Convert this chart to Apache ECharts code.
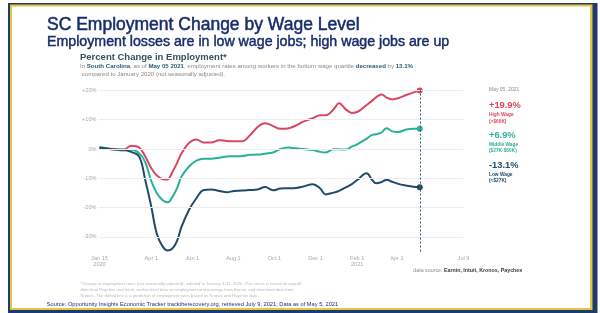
<!DOCTYPE html>
<html><head><meta charset="utf-8">
<script src="https://cdn.jsdelivr.net/npm/echarts@6/dist/echarts.min.js"></script>
<style>html,body{margin:0;padding:0;background:#fff}#c{width:600px;height:313px}</style>
</head><body><div id="c"></div>
<script>
const dates = ['2020-01-15','2020-02-08','2020-02-20','2020-03-02','2020-03-14','2020-03-23','2020-04-01','2020-04-09','2020-04-18','2020-04-25','2020-05-02','2020-05-09','2020-05-16','2020-05-27','2020-06-07','2020-06-18','2020-06-29','2020-07-11','2020-07-22','2020-08-02','2020-08-14','2020-08-25','2020-09-06','2020-09-17','2020-09-29','2020-10-10','2020-10-21','2020-11-02','2020-11-13','2020-11-27','2020-12-08','2020-12-16','2020-12-28','2021-01-05','2021-01-15','2021-01-24','2021-02-01','2021-02-15','2021-02-23','2021-03-01','2021-03-09','2021-03-17','2021-03-25','2021-04-03','2021-04-15','2021-04-25','2021-05-05'];
const highWage = [0.3,-0.2,-0.2,1.1,0.5,-2.6,-6.6,-9.0,-10.3,-10.4,-8.0,-4.9,-1.5,2.0,3.2,2.2,2.2,3.0,2.7,2.6,2.6,4.5,7.5,8.8,7.8,6.9,7.0,8.0,9.3,10.5,11.5,11.5,13.5,15.6,13.5,12.3,12.6,15.0,16.4,17.6,18.6,17.5,16.9,17.3,18.4,19.2,19.9];
const middleWage = [0.6,-0.2,-0.5,-0.3,-1.5,-4.5,-11.0,-15.0,-17.5,-18.2,-16.5,-13.5,-9.4,-6.0,-4.0,-3.3,-3.3,-3.0,-2.6,-2.5,-2.4,-2.0,-1.9,-1.6,-1.2,0.0,0.5,0.2,0.0,-0.4,-1.0,-1.2,-0.1,-0.1,-0.2,0.8,1.6,3.5,4.8,5.0,5.6,7.1,6.0,5.8,6.6,6.9,6.9];
const lowWage = [0.5,-0.2,-0.3,-1.0,-2.6,-10.6,-19.7,-28.8,-33.3,-34.6,-34.0,-31.5,-26.5,-20.8,-16.8,-14.0,-13.8,-14.3,-14.8,-14.3,-14.2,-14.0,-13.8,-13.0,-14.1,-13.5,-13.4,-13.3,-12.8,-12.0,-13.5,-15.5,-14.9,-14.3,-13.1,-12.0,-10.6,-8.3,-10.5,-11.7,-11.3,-10.5,-11.2,-11.9,-12.5,-12.9,-13.1];
const xTickDates = ['2020-01-15','2020-04-01','2020-06-01','2020-08-01','2020-10-01','2020-12-01','2021-02-01','2021-04-01','2021-07-09'];
const xTickLabels = ['Jan 15\n2020','Apr 1','Jun 1','Aug 1','Oct 1','Dec 1','Feb 1\n2021','Apr 1','Jul 9'];
const yTicks = [-30,-20,-10,0,10,20];
const markerDate = '2021-05-05';

const C_HIGH='#d9475f', C_MID='#2bb09b', C_LOW='#1e4c6a';
const t0 = Date.UTC(2020,0,15);
function day(s){const p=s.split('-');return Math.round((Date.UTC(+p[0],+p[1]-1,+p[2])-t0)/86400000);}
const xTickDays = xTickDates.map(day);
function mk(vals,color){
  return vals.map((v,i)=>{
    const pt=[day(dates[i]),v];
    if(i===vals.length-1) return {value:pt,symbol:'circle',symbolSize:6,itemStyle:{color:color}};
    return {value:pt};
  });
}
const FF='Liberation Sans';
const chart = echarts.init(document.getElementById('c'),null,{renderer:'canvas'});
const g = [];
// frame
g.push({type:'rect',z:-10,shape:{x:8,y:3,width:589.5,height:310},style:{fill:'#1e3a6e'}});
g.push({type:'rect',z:-9,shape:{x:10,y:4.5,width:582.5,height:305.5},style:{fill:'#e6c542'}});
g.push({type:'rect',z:-8,shape:{x:12,y:6.5,width:578,height:301.5},style:{fill:'#ffffff'}});
function txt(x,y,text,fs,color,weight,extra){
  g.push({type:'text',x:x,y:y,style:Object.assign({text:text,fontSize:fs,fill:color,fontWeight:weight||'normal',fontFamily:FF,verticalAlign:'middle',align:'left'},extra||{})});
}
txt(47,25,'SC Employment Change by Wage Level',17.5,'#172d6b','normal',{stroke:'#172d6b',lineWidth:0.5});
txt(47,42.5,'Employment losses are in low wage jobs; high wage jobs are up',14.2,'#172d6b','normal',{stroke:'#172d6b',lineWidth:0.45});
txt(80,57.5,'Percent Change in Employment*',9.5,'#34525e','bold');
g.push({type:'text',x:80,y:70,style:{
  text:'{g|In }{b|South Carolina}{g|, as of }{b|May 05 2021}{g|, employment rates among workers in the bottom wage quartile }{b|decreased}{g| by }{b|13.1%}\n{g| compared to January 2020 (not seasonally adjusted).}',
  fontFamily:FF,fontSize:6.1,verticalAlign:'middle',lineHeight:8,
  rich:{g:{fill:'#8a8a8a',fontSize:6.1,fontFamily:FF,lineHeight:8},b:{fill:'#2c5a7a',fontWeight:'bold',fontSize:6.1,fontFamily:FF,lineHeight:8}}
}});
txt(489,90,'May 05, 2021',5,'#8a8a8a');
txt(489,105.3,'+19.9%',9.3,C_HIGH,'bold');
txt(489,114.7,'High Wage',4.8,C_HIGH,'bold');
txt(489,121.3,'(>$60K)',4.8,C_HIGH,'bold');
txt(489,135,'+6.9%',9.3,C_MID,'bold');
txt(489,144.3,'Middle Wage',4.8,C_MID,'bold');
txt(489,151,'($27K-$60K)',4.8,C_MID,'bold');
txt(489,165,'-13.1%',9.3,C_LOW,'bold');
txt(489,174.3,'Low Wage',4.8,C_LOW,'bold');
txt(489,181,'(<$27K)',4.8,C_LOW,'bold');
g.push({type:'text',x:413.3,y:271,style:{text:'{g|data source: }{b|Earnin, Intuit, Kronos, Paychex}',fontFamily:FF,fontSize:5.3,verticalAlign:'middle',
  rich:{g:{fill:'#8a8a8a',fontSize:5.3,fontFamily:FF},b:{fill:'#3a3a3a',fontWeight:'bold',fontSize:5.3,fontFamily:FF}}}});
txt(80.5,284.3,'*Change in employment rates (not seasonally adjusted), indexed to January 4-31, 2020. This series is based on payroll',4.2,'#b8b8b8');
txt(80.5,290,'data from Paychex and Intuit, worker-level data on employment and earnings from Earnin, and timesheet data from',4.2,'#b8b8b8');
txt(80.5,295.7,'Kronos. The dotted line is a prediction of employment rates based on Kronos and Paychex data.',4.2,'#b8b8b8');
txt(46.7,304.3,'Source: Opportunity Insights Economic Tracker tracktherecovery.org, retrieved July 9, 2021; Data as of May 5, 2021',5.7,'#1f3468');

const option = {
  animation:false,
  backgroundColor:'#ffffff',
  graphic:g,
  grid:{left:99.5,right:136.5,top:90.3,bottom:61.4},
  xAxis:{type:'value',min:0,max:day('2021-07-09'),
    axisLine:{show:false},axisTick:{show:false},splitLine:{show:false},
    axisLabel:{customValues:xTickDays,margin:4,fontSize:5.6,color:'#a8a8a8',fontFamily:FF,lineHeight:6,
      formatter:function(v){const i=xTickDays.indexOf(v);return i>=0?xTickLabels[i]:'';}}},
  yAxis:{type:'value',min:-35,max:20,
    axisLine:{show:false},axisTick:{show:false},splitLine:{show:false},
    axisLabel:{customValues:yTicks,margin:3,fontSize:5.6,color:'#a8a8a8',fontFamily:FF,
      formatter:function(v){return (v>0?'+':'')+v+'%';}}},
  series:[
    {name:'grid',type:'line',data:[],silent:true,z:1,
      markLine:{silent:true,symbol:['none','none'],label:{show:false},animation:false,
        lineStyle:{color:'#ececec',width:1,type:'solid'},
        data:yTicks.map(v=>({yAxis:v}))}},
    {name:'High Wage',type:'line',data:mk(highWage,C_HIGH),smooth:0.4,symbol:'none',showSymbol:true,
      lineStyle:{color:C_HIGH,width:2},itemStyle:{color:C_HIGH},z:3},
    {name:'Middle Wage',type:'line',data:mk(middleWage,C_MID),smooth:0.4,symbol:'none',showSymbol:true,
      lineStyle:{color:C_MID,width:2},itemStyle:{color:C_MID},z:3},
    {name:'Low Wage',type:'line',data:mk(lowWage,C_LOW),smooth:0.4,symbol:'none',showSymbol:true,
      lineStyle:{color:C_LOW,width:2},itemStyle:{color:C_LOW},z:3,
      markLine:{silent:true,symbol:['none','none'],label:{show:false},animation:false,
        lineStyle:{color:'#2e5d7e',width:1,type:[2,2]},
        data:[{xAxis:day(markerDate)}]}}
  ]
};
chart.setOption(option);
</script></body></html>
